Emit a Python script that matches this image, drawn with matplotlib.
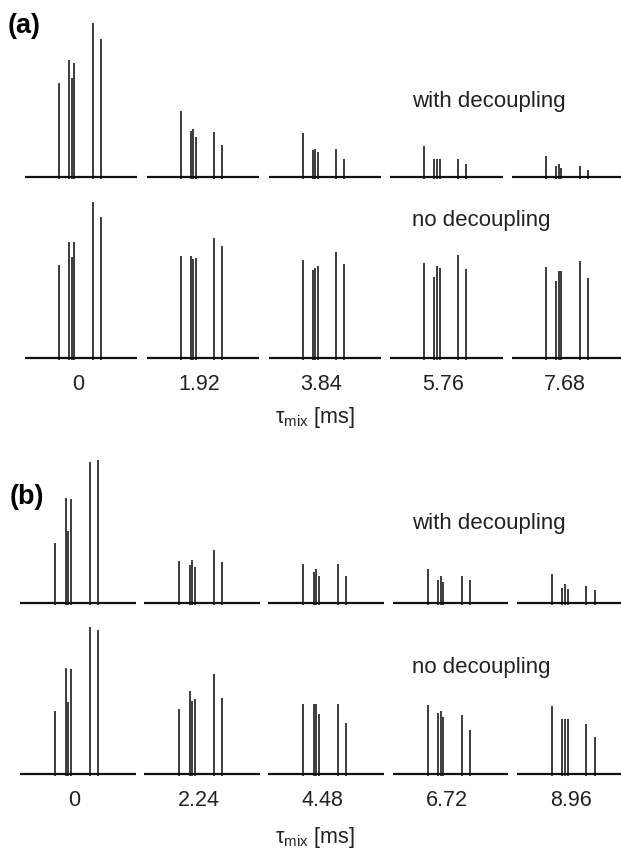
import numpy as np
import matplotlib
matplotlib.use('Agg')
import matplotlib.pyplot as plt

plt.rcParams['font.family'] = ['Liberation Sans', 'DejaVu Sans']
plt.rcParams['mathtext.fontset'] = 'custom'
plt.rcParams['mathtext.rm'] = 'Liberation Sans'

# peak positions inside one spectrum (fraction of the window)
shifts = [0.303, 0.394, 0.416, 0.439, 0.603, 0.674]

# peak intensities, one row per mixing time
a_dec = [[94, 117, 99, 114, 154, 138],
         [66, 46, 48, 40, 45, 32],
         [44, 27, 28, 25, 28, 18],
         [31, 18, 18, 18, 18, 13],
         [21, 11, 13, 9, 11, 7]]
a_nodec = [[93, 116, 101, 116, 156, 141],
           [102, 102, 99, 100, 120, 112],
           [98, 88, 90, 92, 106, 94],
           [95, 81, 92, 90, 103, 89],
           [91, 77, 87, 87, 97, 80]]
b_dec = [[60, 105, 72, 104, 141, 143],
         [42, 38, 43, 36, 53, 41],
         [39, 31, 34, 27, 39, 27],
         [34, 23, 27, 21, 27, 23],
         [29, 15, 19, 14, 17, 13]]
b_nodec = [[63, 106, 72, 105, 147, 144],
           [65, 83, 73, 75, 100, 76],
           [70, 70, 70, 60, 70, 51],
           [69, 61, 63, 57, 59, 44],
           [68, 55, 55, 55, 50, 37]]

a_times = ['0', '1.92', '3.84', '5.76', '7.68']
b_times = ['0', '2.24', '4.48', '6.72', '8.96']

W, H = 621, 856
fig = plt.figure(figsize=(W/100, H/100), dpi=100)

ink = '#111111'


def row(data, base, x0, step, width):
    ax = fig.add_axes([0, 1-(base+8)/H, 1, 170/H])
    ax.set_xlim(0, W)
    ax.set_ylim(-8, 162)
    ax.axis('off')
    for i, hts in enumerate(data):
        start = x0 + i*step
        ax.hlines(0, start, start+width, color=ink, lw=1.6)
        xs = [start + s*width for s in shifts]
        ax.vlines(xs, -2, hts, color=ink, lw=1.15)
    return ax


def labels(times, y, x0, step, width):
    for i, t in enumerate(times):
        fig.text((x0 + i*step + 0.47*width)/W, 1-y/H, t, ha='center', va='center',
                 fontsize=15.5, color='#222222')


# panel (a)
row(a_dec, 177, 25, 121.75, 112.3)
row(a_nodec, 358, 25, 121.75, 112.3)
labels(a_times, 384, 25, 121.75, 112.3)
fig.text(315/W, 1-418/H, 'τ$_{\\mathrm{mix}}$ [ms]', ha='center', va='center',
         fontsize=15.5, color='#222222')
fig.text(8/W, 1-26/H, '(a)', ha='left', va='center', fontsize=19.5, fontweight='bold')
fig.text(412/W, 1-102/H, 'with decoupling', ha='left', va='center', fontsize=16, color='#222222')
fig.text(412/W, 1-221/H, 'no decoupling', ha='left', va='center', fontsize=16, color='#222222')

# panel (b)
row(b_dec, 603, 20, 124.2, 115.5)
row(b_nodec, 774, 20, 124.2, 115.5)
labels(b_times, 800, 20, 124.2, 115.5)
fig.text(315/W, 1-838/H, 'τ$_{\\mathrm{mix}}$ [ms]', ha='center', va='center',
         fontsize=15.5, color='#222222')
fig.text(10/W, 1-497/H, '(b)', ha='left', va='center', fontsize=19.5, fontweight='bold')
fig.text(412/W, 1-523/H, 'with decoupling', ha='left', va='center', fontsize=16, color='#222222')
fig.text(412/W, 1-668/H, 'no decoupling', ha='left', va='center', fontsize=16, color='#222222')

fig.savefig('out.png', dpi=100)
